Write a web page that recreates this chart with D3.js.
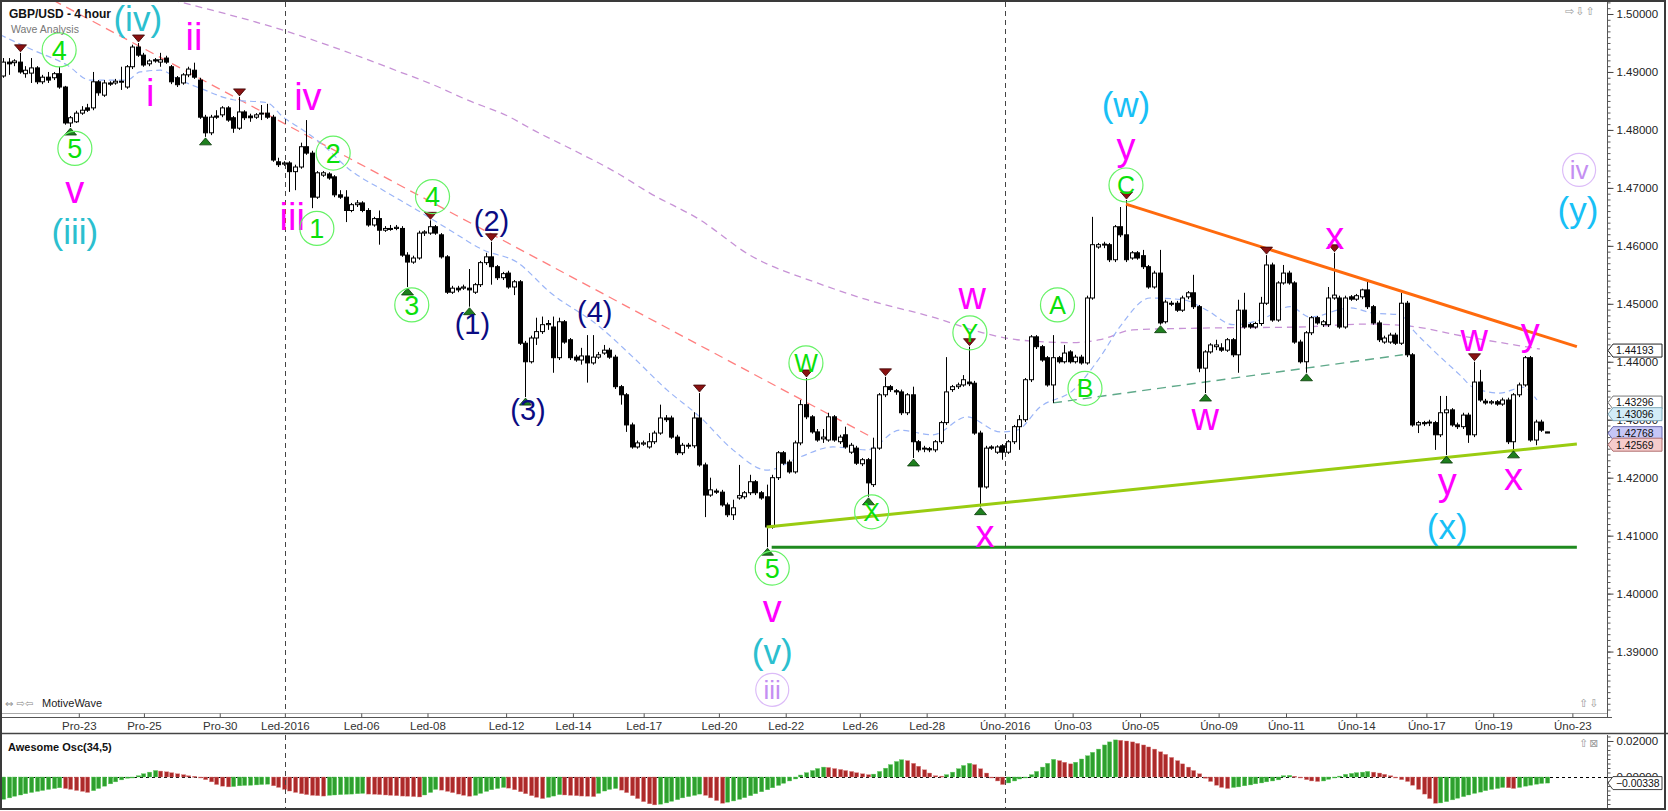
<!DOCTYPE html>
<html><head><meta charset="utf-8">
<script src="https://d3js.org/d3.v7.min.js"></script>
<style>
html,body{margin:0;padding:0;background:#fff;overflow:hidden}
svg{display:block}
</style></head>
<body><svg id="chart" width="1668" height="811"></svg>
<script>
// ---------------- DATA (GBP/USD 4 hour candles) ----------------
const opens = [
1.4893,1.4917,1.4916,1.4917,1.4897,1.4898,1.4907,1.4883,1.4891,1.4890,
1.4897,1.4874,1.4812,1.4814,1.4829,1.4838,1.4838,1.4883,1.4860,1.4881,
1.4881,1.4883,1.4874,1.4909,1.4943,1.4929,1.4914,1.4921,1.4917,1.4924,
1.4909,1.4890,1.4881,1.4895,1.4903,1.4886,1.4822,1.4795,1.4824,1.4826,
1.4838,1.4821,1.4803,1.4831,1.4824,1.4822,1.4828,1.4829,1.4822,1.4745,
1.4741,1.4743,1.4728,1.4736,1.4771,1.4760,1.4684,1.4722,1.4724,1.4719,
1.4688,1.4684,1.4661,1.4671,1.4674,1.4661,1.4636,1.4647,1.4627,1.4630,
1.4630,1.4630,1.4584,1.4572,1.4579,1.4622,1.4622,1.4633,1.4619,1.4581,
1.4520,1.4527,1.4527,1.4527,1.4520,1.4533,1.4571,1.4581,1.4564,1.4545,
1.4553,1.4529,1.4538,1.4432,1.4400,1.4441,1.4452,1.4464,1.4460,1.4407,
1.4469,1.4438,1.4408,1.4403,1.4410,1.4398,1.4408,1.4415,1.4420,1.4408,
1.4357,1.4343,1.4291,1.4253,1.4258,1.4253,1.4262,1.4277,1.4303,1.4303,
1.4270,1.4243,1.4255,1.4255,1.4303,1.4222,1.4170,1.4177,1.4175,1.4153,
1.4136,1.4165,1.4167,1.4174,1.4193,1.4174,1.4167,1.4115,1.4200,1.4243,
1.4227,1.4210,1.4260,1.4326,1.4305,1.4279,1.4267,1.4265,1.4305,1.4262,
1.4274,1.4244,1.4251,1.4224,1.4231,1.4188,1.4251,1.4343,1.4357,1.4350,
1.4348,1.4312,1.4343,1.4262,1.4250,1.4250,1.4248,1.4262,1.4295,1.4352,
1.4357,1.4360,1.4365,1.4363,1.4277,1.4184,1.4253,1.4244,1.4255,1.4244,
1.4262,1.4288,1.4300,1.4369,1.4443,1.4426,1.4407,1.4360,1.4407,1.4400,
1.4417,1.4400,1.4408,1.4398,1.4510,1.4598,1.4602,1.4602,1.4576,1.4633,
1.4619,1.4579,1.4588,1.4583,1.4564,1.4529,1.4553,1.4469,1.4501,1.4501,
1.4489,1.4512,1.4519,1.4495,1.4389,1.4417,1.4426,1.4424,1.4420,1.4438,
1.4412,1.4489,1.4464,1.4460,1.4466,1.4501,1.4567,1.4472,1.4536,1.4553,
1.4536,1.4434,1.4400,1.4450,1.4476,1.4464,1.4464,1.4510,1.4510,1.4460,
1.4512,1.4508,1.4512,1.4524,1.4495,1.4467,1.4434,1.4434,1.4446,1.4432,
1.4501,1.4412,1.4291,1.4295,1.4295,1.4295,1.4274,1.4312,1.4317,1.4291,
1.4288,1.4308,1.4274,1.4365,1.4332,1.4329,1.4331,1.4327,1.4334,1.4262,
1.4343,1.4360,1.4407,1.4265,1.4296,1.4279];
const highs = [
1.4924,1.4924,1.4922,1.4933,1.4910,1.4924,1.4910,1.4895,1.4900,1.4900,
1.4909,1.4876,1.4824,1.4833,1.4841,1.4845,1.4900,1.4886,1.4886,1.4884,
1.4888,1.4909,1.4912,1.4947,1.4950,1.4933,1.4922,1.4924,1.4933,1.4928,
1.4912,1.4893,1.4898,1.4909,1.4916,1.4890,1.4826,1.4826,1.4834,1.4841,
1.4841,1.4824,1.4857,1.4834,1.4828,1.4829,1.4843,1.4845,1.4826,1.4752,
1.4746,1.4746,1.4740,1.4778,1.4817,1.4764,1.4729,1.4729,1.4727,1.4722,
1.4696,1.4696,1.4674,1.4679,1.4677,1.4665,1.4650,1.4661,1.4634,1.4636,
1.4636,1.4634,1.4589,1.4583,1.4626,1.4627,1.4644,1.4636,1.4622,1.4584,
1.4531,1.4531,1.4533,1.4560,1.4536,1.4574,1.4588,1.4607,1.4567,1.4555,
1.4557,1.4541,1.4541,1.4436,1.4445,1.4476,1.4478,1.4472,1.4478,1.4476,
1.4472,1.4441,1.4412,1.4424,1.4446,1.4446,1.4417,1.4429,1.4424,1.4412,
1.4360,1.4346,1.4295,1.4264,1.4264,1.4277,1.4281,1.4326,1.4308,1.4307,
1.4274,1.4260,1.4260,1.4313,1.4346,1.4226,1.4200,1.4181,1.4179,1.4157,
1.4162,1.4222,1.4177,1.4205,1.4196,1.4177,1.4188,1.4205,1.4246,1.4246,
1.4231,1.4264,1.4334,1.4372,1.4308,1.4284,1.4284,1.4312,1.4308,1.4274,
1.4288,1.4260,1.4255,1.4234,1.4234,1.4269,1.4346,1.4374,1.4360,1.4353,
1.4352,1.4346,1.4357,1.4265,1.4255,1.4253,1.4265,1.4298,1.4408,1.4360,
1.4364,1.4377,1.4426,1.4367,1.4281,1.4255,1.4256,1.4256,1.4258,1.4265,
1.4291,1.4308,1.4372,1.4446,1.4446,1.4429,1.4410,1.4446,1.4410,1.4429,
1.4420,1.4412,1.4412,1.4514,1.4650,1.4605,1.4607,1.4605,1.4636,1.4667,
1.4679,1.4591,1.4591,1.4593,1.4567,1.4557,1.4593,1.4507,1.4505,1.4505,
1.4514,1.4522,1.4550,1.4498,1.4420,1.4432,1.4438,1.4432,1.4441,1.4441,
1.4507,1.4519,1.4467,1.4469,1.4512,1.4584,1.4571,1.4539,1.4567,1.4557,
1.4539,1.4438,1.4453,1.4479,1.4479,1.4472,1.4529,1.4588,1.4514,1.4514,
1.4515,1.4517,1.4526,1.4538,1.4498,1.4471,1.4445,1.4450,1.4450,1.4519,
1.4505,1.4415,1.4298,1.4298,1.4300,1.4298,1.4341,1.4341,1.4320,1.4295,
1.4312,1.4312,1.4400,1.4386,1.4336,1.4334,1.4334,1.4338,1.4338,1.4346,
1.4364,1.4410,1.4410,1.4300,1.4300,1.4279];
const lows = [
1.4890,1.4895,1.4910,1.4897,1.4890,1.4881,1.4879,1.4879,1.4881,1.4886,
1.4871,1.4809,1.4805,1.4812,1.4826,1.4831,1.4834,1.4859,1.4857,1.4876,
1.4878,1.4869,1.4871,1.4905,1.4926,1.4909,1.4910,1.4916,1.4909,1.4914,
1.4879,1.4874,1.4878,1.4891,1.4888,1.4819,1.4788,1.4791,1.4819,1.4822,
1.4814,1.4795,1.4800,1.4817,1.4814,1.4819,1.4817,1.4819,1.4745,1.4736,
1.4738,1.4693,1.4696,1.4733,1.4757,1.4665,1.4681,1.4719,1.4714,1.4684,
1.4681,1.4641,1.4658,1.4667,1.4658,1.4633,1.4633,1.4602,1.4624,1.4626,
1.4627,1.4581,1.4529,1.4569,1.4576,1.4617,1.4619,1.4619,1.4578,1.4517,
1.4517,1.4520,1.4524,1.4495,1.4517,1.4529,1.4567,1.4533,1.4541,1.4541,
1.4526,1.4515,1.4429,1.4339,1.4397,1.4429,1.4448,1.4455,1.4381,1.4403,
1.4431,1.4403,1.4400,1.4395,1.4364,1.4395,1.4405,1.4412,1.4405,1.4353,
1.4326,1.4279,1.4250,1.4250,1.4255,1.4250,1.4258,1.4274,1.4296,1.4267,
1.4239,1.4239,1.4250,1.4251,1.4219,1.4132,1.4167,1.4172,1.4150,1.4132,
1.4127,1.4162,1.4163,1.4170,1.4170,1.4162,1.4080,1.4112,1.4196,1.4222,
1.4207,1.4207,1.4256,1.4301,1.4276,1.4262,1.4260,1.4262,1.4262,1.4258,
1.4250,1.4241,1.4222,1.4220,1.4167,1.4184,1.4248,1.4339,1.4348,1.4343,
1.4308,1.4308,1.4234,1.4244,1.4244,1.4244,1.4244,1.4258,1.4291,1.4348,
1.4353,1.4357,1.4358,1.4274,1.4150,1.4181,1.4248,1.4241,1.4231,1.4241,
1.4258,1.4248,1.4296,1.4365,1.4422,1.4400,1.4357,1.4329,1.4397,1.4397,
1.4397,1.4397,1.4395,1.4395,1.4507,1.4595,1.4596,1.4572,1.4572,1.4615,
1.4572,1.4576,1.4576,1.4560,1.4526,1.4526,1.4464,1.4466,1.4496,1.4486,
1.4486,1.4508,1.4491,1.4382,1.4346,1.4414,1.4420,1.4417,1.4417,1.4408,
1.4381,1.4457,1.4457,1.4457,1.4462,1.4498,1.4469,1.4469,1.4533,1.4533,
1.4431,1.4397,1.4381,1.4446,1.4464,1.4460,1.4460,1.4507,1.4457,1.4457,
1.4505,1.4505,1.4508,1.4491,1.4464,1.4434,1.4431,1.4431,1.4429,1.4429,
1.4408,1.4288,1.4277,1.4289,1.4289,1.4248,1.4270,1.4239,1.4288,1.4284,
1.4284,1.4260,1.4270,1.4331,1.4326,1.4326,1.4324,1.4324,1.4258,1.4248,
1.4339,1.4357,1.4262,1.4256,1.4279,1.4277];
const closes = [
1.4917,1.4914,1.4919,1.4900,1.4903,1.4907,1.4883,1.4891,1.4886,1.4897,
1.4874,1.4812,1.4821,1.4829,1.4834,1.4834,1.4883,1.4864,1.4881,1.4879,
1.4884,1.4884,1.4909,1.4943,1.4929,1.4912,1.4919,1.4919,1.4921,1.4917,
1.4883,1.4878,1.4895,1.4905,1.4891,1.4822,1.4795,1.4822,1.4822,1.4838,
1.4817,1.4803,1.4831,1.4821,1.4821,1.4826,1.4829,1.4822,1.4748,1.4740,
1.4743,1.4728,1.4736,1.4771,1.4760,1.4684,1.4726,1.4726,1.4717,1.4688,
1.4684,1.4661,1.4671,1.4674,1.4661,1.4636,1.4647,1.4627,1.4630,1.4629,
1.4632,1.4584,1.4572,1.4579,1.4622,1.4624,1.4633,1.4622,1.4581,1.4520,
1.4527,1.4524,1.4529,1.4524,1.4533,1.4571,1.4581,1.4564,1.4545,1.4552,
1.4529,1.4538,1.4432,1.4400,1.4441,1.4452,1.4464,1.4466,1.4407,1.4469,
1.4434,1.4407,1.4403,1.4410,1.4398,1.4408,1.4412,1.4420,1.4408,1.4357,
1.4343,1.4291,1.4253,1.4260,1.4260,1.4262,1.4277,1.4303,1.4300,1.4270,
1.4243,1.4256,1.4256,1.4303,1.4222,1.4170,1.4179,1.4175,1.4153,1.4136,
1.4148,1.4169,1.4174,1.4193,1.4174,1.4165,1.4115,1.4200,1.4243,1.4225,
1.4210,1.4260,1.4326,1.4305,1.4279,1.4265,1.4270,1.4305,1.4265,1.4270,
1.4253,1.4256,1.4225,1.4231,1.4191,1.4251,1.4343,1.4357,1.4352,1.4348,
1.4312,1.4343,1.4262,1.4248,1.4251,1.4248,1.4262,1.4295,1.4348,1.4357,
1.4360,1.4369,1.4362,1.4277,1.4184,1.4251,1.4251,1.4253,1.4244,1.4262,
1.4288,1.4300,1.4369,1.4443,1.4426,1.4403,1.4360,1.4407,1.4400,1.4415,
1.4400,1.4408,1.4398,1.4510,1.4602,1.4602,1.4603,1.4576,1.4633,1.4619,
1.4576,1.4588,1.4579,1.4564,1.4529,1.4553,1.4467,1.4503,1.4500,1.4489,
1.4510,1.4519,1.4495,1.4389,1.4417,1.4429,1.4429,1.4420,1.4438,1.4412,
1.4489,1.4460,1.4460,1.4466,1.4501,1.4567,1.4472,1.4536,1.4553,1.4536,
1.4434,1.4400,1.4450,1.4476,1.4467,1.4469,1.4510,1.4515,1.4460,1.4510,
1.4508,1.4514,1.4524,1.4495,1.4467,1.4438,1.4441,1.4446,1.4432,1.4501,
1.4412,1.4291,1.4295,1.4293,1.4296,1.4274,1.4312,1.4317,1.4291,1.4288,
1.4308,1.4274,1.4365,1.4334,1.4329,1.4331,1.4327,1.4334,1.4262,1.4343,
1.4360,1.4407,1.4265,1.4296,1.4282,1.4277];

// Awesome Oscillator (34,5) histogram values
const aoValues = [
-0.0124,-0.0116,-0.0107,-0.0100,-0.0093,-0.0086,-0.0080,-0.0075,-0.0069,-0.0064,-0.0060,
-0.0064,-0.0069,-0.0075,-0.0080,-0.0086,
-0.0076,-0.0064,-0.0051,-0.0038,-0.0027,-0.0016,-0.0007,-0.0002,
0.0007,0.0018,0.0027,0.0036,
0.0033,0.0029,0.0024,0.0018,0.0013,0.0007,0.0004,
-0.0004,-0.0015,-0.0027,-0.0042,-0.0051,-0.0055,
-0.0053,-0.0049,-0.0047,-0.0046,-0.0044,-0.0042,-0.0040,
-0.0049,-0.0058,-0.0069,-0.0078,-0.0086,-0.0093,-0.0098,-0.0102,-0.0104,-0.0106,
-0.0102,-0.0100,-0.0098,-0.0096,-0.0095,-0.0093,-0.0091,
-0.0095,-0.0096,-0.0098,-0.0100,-0.0102,-0.0104,-0.0106,-0.0107,-0.0109,-0.0111,
-0.0100,-0.0086,-0.0069,
-0.0073,-0.0080,-0.0087,-0.0095,-0.0102,-0.0107,
-0.0102,-0.0091,-0.0080,-0.0071,-0.0064,-0.0058,
-0.0062,-0.0071,-0.0082,-0.0093,-0.0104,-0.0113,-0.0120,
-0.0113,-0.0106,-0.0098,
-0.0100,-0.0102,-0.0104,-0.0106,-0.0107,-0.0109,
-0.0091,-0.0078,-0.0069,-0.0064,
-0.0073,-0.0087,-0.0104,-0.0120,-0.0137,-0.0149,-0.0155,
-0.0151,-0.0144,-0.0135,-0.0126,-0.0116,-0.0109,-0.0102,-0.0095,
-0.0102,-0.0116,-0.0131,-0.0146,
-0.0140,-0.0133,-0.0124,-0.0115,-0.0104,-0.0093,-0.0082,-0.0071,-0.0060,-0.0047,-0.0035,-0.0022,-0.0011,
0.0011,0.0024,0.0036,0.0047,0.0055,
0.0053,0.0047,0.0042,0.0036,0.0031,0.0024,
0.0018,0.0013,
0.0016,0.0031,0.0049,0.0069,0.0086,0.0096,
0.0091,0.0076,0.0060,0.0040,0.0022,0.0007,0.0005,
0.0013,0.0027,0.0046,0.0064,0.0076,
0.0069,0.0046,0.0022,-0.0004,-0.0022,-0.0042,
-0.0033,-0.0022,-0.0011,-0.0002,
0.0013,0.0031,0.0055,0.0076,0.0098,
0.0091,0.0082,0.0073,
0.0082,0.0100,0.0118,0.0137,0.0155,
0.0178,0.0195,0.0206,
0.0204,0.0200,0.0195,0.0187,0.0178,0.0167,0.0155,0.0140,0.0126,0.0109,0.0091,0.0073,0.0055,0.0036,0.0018,
-0.0007,-0.0025,-0.0046,-0.0058,-0.0064,
-0.0058,-0.0055,-0.0049,-0.0044,-0.0038,-0.0033,-0.0027,-0.0022,-0.0016,
0.0007,0.0009,
0.0004,-0.0005,-0.0015,-0.0022,-0.0025,
-0.0022,-0.0013,-0.0004,0.0005,0.0015,0.0020,0.0024,0.0027,0.0031,
0.0027,0.0022,0.0015,0.0007,
-0.0004,-0.0015,-0.0025,-0.0046,-0.0069,-0.0095,-0.0120,-0.0146,
-0.0144,-0.0137,-0.0127,-0.0118,-0.0109,-0.0100,-0.0091,-0.0084,-0.0076,-0.0069,-0.0064,-0.0058,
-0.0060,-0.0064,
-0.0058,-0.0051,-0.0046,-0.0040,-0.0036,-0.00338];

// time axis (bar index of each date label)
const tickLabels = ["Pro-23","Pro-25","Pro-30","Led-2016","Led-06","Led-08","Led-12","Led-14","Led-17","Led-20","Led-22","Led-26","Led-28","Úno-2016","Úno-03","Úno-05","Úno-09","Úno-11","Úno-14","Úno-17","Úno-19","Úno-23"];
const tickBars = [13.5,25.1,38.6,50.2,63.8,75.6,89.6,101.5,114.1,127.5,139.4,152.6,164.5,178.4,190.5,202.5,216.5,228.5,241,253.5,265.4,279.5];
const periodBreaks = [50.2, 178.4];
const priceTicks = [1.39,1.40,1.41,1.42,1.43,1.44,1.45,1.46,1.47,1.48,1.49,1.50];
const oscTicks = [0.00, 0.02];
const priceTags = [1.44193, 1.43296, 1.43096, 1.42768, 1.42569];

// moving averages [bar, price]
const fastMA = [[-0.5,1.4964],[5.3,1.4938],[11.4,1.4912],[15.5,1.4886],[22.1,1.4886],[24.4,1.4900],[28,1.4903],[31.5,1.4886],[35.1,1.4872],[41,1.4852],[47,1.4847],[49.9,1.4822],[52.9,1.4803],[56.5,1.4778],[61.8,1.4731],[67.7,1.4696],[73.7,1.4662],[79.6,1.4627],[85.5,1.4593],[91.5,1.4572],[97.4,1.4520],[106.3,1.4460],[112.2,1.4408],[118.3,1.4351],[124.1,1.4305],[130,1.4248],[136.1,1.4213],[142,1.4236],[147.8,1.4253],[153.9,1.4248],[159.7,1.4282],[165.6,1.4274],[171.7,1.4305],[177.6,1.4279],[180.6,1.4282],[184.7,1.4322],[190.6,1.4351],[195.4,1.4408],[198.9,1.4460],[204.3,1.4510],[210.2,1.4507],[214.4,1.4489],[219.1,1.4464],[223.9,1.4472],[229.2,1.4495],[232.8,1.4477],[239.9,1.4493],[244,1.4484],[248.8,1.4481],[251.1,1.4455],[254.7,1.4420],[259.5,1.4377],[261.8,1.4356],[266.6,1.4346],[270.7,1.4356],[273.2,1.4334]];
const slowMA = [[26,1.5035],[30.3,1.5024],[49.9,1.4972],[58.8,1.4943],[70.7,1.4900],[76.6,1.4878],[82.6,1.4852],[90.3,1.4822],[94.4,1.4800],[100.4,1.4771],[109.3,1.4726],[115.2,1.4691],[124.1,1.4645],[133,1.4584],[145,1.4536],[153.9,1.4507],[165.6,1.4477],[174.5,1.4450],[180.6,1.4438],[190.6,1.4433],[195.4,1.4438],[201.2,1.4455],[213.2,1.4458],[231,1.4460],[242.9,1.4465],[250,1.4462],[260.7,1.4443],[273.7,1.4422]];

// trend lines [bar, price]
const downTrendDashed = [[8.9,1.5024],[154.9,1.4269]];
const resistanceLine = [[200,1.4672],[280.3,1.4426]];
const supportLine = [[136,1.4115],[280.3,1.4258]];
const lowLine = [[136.9,1.4080],[280.3,1.4080]];
const channelDashed = [[187,1.4329],[249.3,1.4412]];

// swing markers (bar indices)
const highMarks = [3,24,42,76,87,124,143,157,172,200,225,237,262];
const lowMarks = [12,36,72,83,93,136,154,162,174,206,214,232,257,269];

// wave labels: text, bar, price, degree
const waveLabels = [
 {t:"(iv)",i:24.0,p:1.4986,k:"teal"},{t:"ii",i:34.0,p:1.4962,k:"mag"},{t:"i",i:26.2,p:1.4864,k:"mag"},
 {t:"v",i:12.8,p:1.4691,k:"mag"},{t:"(iii)",i:12.8,p:1.4619,k:"teal"},{t:"iv",i:54.3,p:1.4857,k:"mag"},
 {t:"iii",i:51.5,p:1.4650,k:"mag"},{t:"(2)",i:87.0,p:1.4639,k:"navy"},{t:"(1)",i:83.6,p:1.4461,k:"navy"},
 {t:"(4)",i:105.4,p:1.4481,k:"navy"},{t:"(3)",i:93.5,p:1.4313,k:"navy"},{t:"(w)",i:200,p:1.4838,k:"sky"},
 {t:"y",i:200,p:1.4759,k:"mag"},{t:"x",i:237.2,p:1.4612,k:"mag"},{t:"(y)",i:280.5,p:1.4656,k:"sky"},
 {t:"w",i:172.6,p:1.4508,k:"mag"},{t:"w",i:214.1,p:1.4300,k:"mag"},{t:"x",i:174.9,p:1.4098,k:"mag"},
 {t:"w",i:262,p:1.4436,k:"mag"},{t:"y",i:272,p:1.4439,k:"mag"},{t:"y",i:257.2,p:1.4181,k:"mag"},
 {t:"x",i:269,p:1.4196,k:"mag"},{t:"(x)",i:257.2,p:1.4110,k:"sky"},{t:"v",i:137,p:1.3968,k:"mag"},
 {t:"(v)",i:137,p:1.3894,k:"teal"}
];
const circledLabels = [
 {t:"4",i:10.0,p:1.4938},{t:"5",i:12.8,p:1.4768},{t:"2",i:58.8,p:1.4760},{t:"1",i:55.9,p:1.4630},
 {t:"4",i:76.5,p:1.4685},{t:"3",i:72.8,p:1.4498},{t:"W",i:143,p:1.4398},{t:"C",i:200,p:1.4705},
 {t:"Y",i:172.2,p:1.4450},{t:"A",i:187.8,p:1.4498},{t:"B",i:192.7,p:1.4354},{t:"X",i:154.7,p:1.4141},
 {t:"5",i:137,p:1.4044}
];
const cycleLabels = [{t:"iv",i:280.7,p:1.4731},{t:"iii",i:137,p:1.3834}];

// ---------------- DRAWING ----------------
const FONT = "'Liberation Sans', Arial, Helvetica, sans-serif";
const svg = d3.select("#chart");
const P = {l:2, r:1607, t:2, b:713};
const OS = {t:735, b:808};

const x = d3.scaleLinear().domain([0, 275]).range([3, 1547.1]);
const y = d3.scaleLinear().domain([1.3794, 1.50207]).range([P.b, P.t]);
const yo = d3.scaleLinear().domain([-0.01722, 0.02333]).range([OS.b, OS.t]);

svg.append("rect").attr("width",1668).attr("height",811).attr("fill","#fff");
const defs = svg.append("defs");
defs.append("clipPath").attr("id","clipMain").append("rect")
  .attr("x",P.l).attr("y",P.t).attr("width",P.r-P.l).attr("height",P.b-P.t);
defs.append("clipPath").attr("id","clipOsc").append("rect")
  .attr("x",P.l).attr("y",OS.t).attr("width",P.r-P.l).attr("height",OS.b-OS.t);

const main = svg.append("g").attr("clip-path","url(#clipMain)");
const osc = svg.append("g").attr("clip-path","url(#clipOsc)");

// period separators
periodBreaks.forEach(b => {
  const xx = Math.round(x(b)) + 0.5;
  [[P.t,P.b],[OS.t,OS.b]].forEach(([a,c]) => {
    svg.append("line").attr("x1",xx).attr("x2",xx).attr("y1",a).attr("y2",c)
      .attr("stroke","#444").attr("stroke-width",1).attr("stroke-dasharray","5,4");
  });
});

const line = d3.line().x(d => x(d[0])).y(d => y(d[1]));
const smooth = d3.line().x(d => x(d[0])).y(d => y(d[1])).curve(d3.curveMonotoneX);

main.append("path").attr("d", smooth(slowMA)).attr("fill","none")
  .attr("stroke","#c792d6").attr("stroke-width",1.3).attr("stroke-dasharray","7,5");
main.append("path").attr("d", line(downTrendDashed)).attr("fill","none")
  .attr("stroke","#ff7f7f").attr("stroke-width",1.3).attr("stroke-dasharray","9,6");
main.append("path").attr("d", smooth(fastMA)).attr("fill","none")
  .attr("stroke","#9bb5f7").attr("stroke-width",1.2).attr("stroke-dasharray","6,4");
main.append("path").attr("d", line(channelDashed)).attr("fill","none")
  .attr("stroke","#5fa98a").attr("stroke-width",1.4).attr("stroke-dasharray","9,6");

// candles
const candles = d3.range(opens.length).map(i => ({
  i, o: opens[i], c: closes[i],
  h: Math.max(highs[i], opens[i], closes[i]),
  l: Math.min(lows[i], opens[i], closes[i])
}));
const cg = main.append("g");
cg.selectAll("line").data(candles).join("line")
  .attr("x1", d => Math.round(x(d.i)) + 0.5).attr("x2", d => Math.round(x(d.i)) + 0.5)
  .attr("y1", d => y(d.h)).attr("y2", d => y(d.l))
  .attr("stroke","#000").attr("stroke-width",1);
cg.selectAll("rect").data(candles).join("rect")
  .attr("x", d => Math.round(x(d.i)) - 1.5)
  .attr("width", 4)
  .attr("y", d => y(Math.max(d.o, d.c)))
  .attr("height", d => Math.max(1, Math.abs(y(d.o) - y(d.c))))
  .attr("fill", d => d.c >= d.o ? "#fff" : "#000")
  .attr("stroke","#000").attr("stroke-width",1);

// trend lines on top
main.append("path").attr("d", line(lowLine)).attr("stroke","#1f8a1f").attr("stroke-width",3).attr("fill","none");
main.append("path").attr("d", line(supportLine)).attr("stroke","#99cc11").attr("stroke-width",3).attr("fill","none");
main.append("path").attr("d", line(resistanceLine)).attr("stroke","#ff6a0d").attr("stroke-width",3).attr("fill","none");

// swing markers
const mg = main.append("g");
mg.selectAll("path.hi").data(highMarks).join("path").attr("class","hi")
  .attr("d", i => { const cx = Math.round(x(i)) + 0.5, yy = y(highs[i]) - 1;
    return `M${cx-6},${yy-7}L${cx+6},${yy-7}L${cx},${yy}Z`; })
  .attr("fill","#8a1212").attr("stroke","#3a0000").attr("stroke-width",0.8);
mg.selectAll("path.lo").data(lowMarks).join("path").attr("class","lo")
  .attr("d", i => { const cx = Math.round(x(i)) + 0.5, yy = y(lows[i]) + 1;
    return `M${cx-6},${yy+7}L${cx+6},${yy+7}L${cx},${yy}Z`; })
  .attr("fill","#1e7f1e").attr("stroke","#0a3a0a").attr("stroke-width",0.8);

// wave labels
const kindStyle = {
  mag: {fill:"#ff00ff", size:38},
  teal:{fill:"#2cbfcf", size:35},
  sky: {fill:"#18c0f6", size:35},
  navy:{fill:"#0b0b82", size:29}
};
function baseOffset(t) {
  if (t.includes("(")) return 0.26;
  if (t.includes("i")) return 0.358;
  if (t.includes("y")) return 0.155;
  return 0.26;
}
const lg = svg.append("g").attr("font-family", FONT);
lg.selectAll("text.wl").data(waveLabels).join("text").attr("class","wl")
  .attr("x", d => x(d.i))
  .attr("y", d => y(d.p) + baseOffset(d.t) * kindStyle[d.k].size)
  .attr("text-anchor","middle")
  .attr("font-size", d => kindStyle[d.k].size)
  .attr("fill", d => kindStyle[d.k].fill)
  .text(d => d.t);

const cl = lg.selectAll("g.cl").data(circledLabels).join("g").attr("class","cl")
  .attr("transform", d => `translate(${x(d.i)},${y(d.p)})`);
cl.append("circle").attr("r",17).attr("fill","none").attr("stroke","#66f266").attr("stroke-width",1.2);
cl.append("text").attr("text-anchor","middle").attr("font-size", d => /\d/.test(d.t) ? 27 : 25)
  .attr("y", d => (/\d/.test(d.t) ? 27 : 25) * 0.358)
  .attr("fill","#0be00b").text(d => d.t);

const yl = lg.selectAll("g.cy").data(cycleLabels).join("g").attr("class","cy")
  .attr("transform", d => `translate(${x(d.i)},${y(d.p)})`);
yl.append("circle").attr("r",16.5).attr("fill","none").attr("stroke","#dcbcf8").attr("stroke-width",1.2);
yl.append("text").attr("text-anchor","middle").attr("font-size",26).attr("y",26*0.358)
  .attr("fill","#c48ff2").text(d => d.t);

// oscillator
osc.append("line").attr("x1",P.l).attr("x2",P.r).attr("y1",Math.round(yo(0))+0.5).attr("y2",Math.round(yo(0))+0.5)
  .attr("stroke","#000").attr("stroke-width",1).attr("stroke-dasharray","3,3");
osc.selectAll("rect").data(aoValues.map((v,i) => ({i, v, up: i === 0 || v >= aoValues[i-1]})))
  .join("rect")
  .attr("x", d => Math.round(x(d.i)) - 1.5)
  .attr("width", 4.2)
  .attr("y", d => yo(Math.max(0, d.v)))
  .attr("height", d => Math.max(1, Math.abs(yo(d.v) - yo(0))))
  .attr("fill", d => d.up ? "#2ea02e" : "#ad2a2a")
  .attr("stroke", d => d.up ? "#5fcf5f" : "#e08a8a").attr("stroke-width",0.4);

// frame lines
svg.append("line").attr("x1",0).attr("x2",P.r).attr("y1",713.5).attr("y2",713.5).attr("stroke","#aaa");
svg.append("line").attr("x1",0).attr("x2",1612).attr("y1",717.5).attr("y2",717.5).attr("stroke","#555");
svg.append("line").attr("x1",0).attr("x2",1668).attr("y1",733.5).attr("y2",733.5).attr("stroke","#444").attr("stroke-width",1.5);
svg.append("line").attr("x1",P.r+0.5).attr("x2",P.r+0.5).attr("y1",P.t).attr("y2",717).attr("stroke","#555");
svg.append("line").attr("x1",P.r+0.5).attr("x2",P.r+0.5).attr("y1",OS.t).attr("y2",OS.b).attr("stroke","#555");
svg.append("rect").attr("x",1).attr("y",1).attr("width",1664).attr("height",808)
  .attr("fill","none").attr("stroke","#3a3a3a").attr("stroke-width",2);

// time axis
const xAxis = d3.axisBottom(x).tickValues(tickBars).tickFormat((d,k) => tickLabels[k])
  .tickSize(4).tickPadding(4).tickSizeOuter(0);
const xg = svg.append("g").attr("transform",`translate(0,${713.5})`).call(xAxis);
xg.select(".domain").remove();
xg.selectAll("line").attr("stroke","#555");
xg.selectAll("text").attr("font-family",FONT).attr("font-size",11.5).attr("fill","#333");

// value tags (drawn over axis labels, as in the original)
function tagBox(yc, fill, stroke) {
  const x0 = P.r + 1, w = 54, h = 13;
  svg.append("path")
    .attr("d", `M${x0},${yc}L${x0+5},${yc-h/2}L${x0+w},${yc-h/2}L${x0+w},${yc+h/2}L${x0+5},${yc+h/2}Z`)
    .attr("fill", fill).attr("stroke", stroke).attr("stroke-width",1);
}
function tagText(yc, label) {
  svg.append("text").attr("x", P.r + 9).attr("y", yc + 3.8).attr("font-family",FONT)
    .attr("font-size",10.4).attr("fill","#111").text(label);
}

// price axis
const minorTicks = d3.range(1380, 1503).map(k => k / 1000).filter(v => v >= 1.3794 && v <= 1.5020);
const yMinor = svg.append("g").attr("transform",`translate(${P.r+0.5},0)`)
  .call(d3.axisRight(y).tickValues(minorTicks).tickSize(3).tickFormat(""));
yMinor.select(".domain").remove();
yMinor.selectAll("line").attr("stroke","#555");
const yg = svg.append("g").attr("transform",`translate(${P.r+0.5},0)`)
  .call(d3.axisRight(y).tickValues(priceTicks).tickSize(6).tickPadding(3).tickFormat(d3.format(".5f")));
yg.select(".domain").remove();
yg.selectAll("line").attr("stroke","#444");
yg.selectAll("text").attr("font-family",FONT).attr("font-size",11.5).attr("fill","#222");

// osc axis
const og = svg.append("g").attr("transform",`translate(${P.r+0.5},0)`)
  .call(d3.axisRight(yo).tickValues(d3.range(-15, 23, 2.5).map(v => v / 1000)).tickSize(3).tickFormat(""));
og.select(".domain").remove();
og.selectAll("line").attr("stroke","#555");
const og2 = svg.append("g").attr("transform",`translate(${P.r+0.5},0)`)
  .call(d3.axisRight(yo).tickValues(oscTicks).tickSize(6).tickPadding(3).tickFormat(d3.format(".5f")));
og2.select(".domain").remove();
og2.selectAll("line").attr("stroke","#444");
og2.selectAll("text").attr("font-family",FONT).attr("font-size",11.5).attr("fill","#222");

const tagStyles = [["#ffffff","#222"],["#ffffff","#777"],["#d3edf8","#7fa9b8"],["#c6c6f6","#6a6ab0"],["#f6cccc","#b07070"]];
priceTags.forEach((v, k) => tagBox(y(v), tagStyles[k][0], tagStyles[k][1]));
priceTags.forEach(v => tagText(y(v), d3.format(".5f")(v)));
const aoLast = aoValues[aoValues.length-1];
tagBox(yo(aoLast), "#ffffff", "#444");
tagText(yo(aoLast), d3.format(".5f")(aoLast));

// titles and misc text
svg.append("text").attr("x",9).attr("y",17.5).attr("font-family",FONT).attr("font-weight","bold")
  .attr("font-size",12).attr("fill","#111").text("GBP/USD - 4 hour");
svg.append("text").attr("x",11).attr("y",32.5).attr("font-family",FONT)
  .attr("font-size",10.5).attr("fill","#777").text("Wave Analysis");
svg.append("text").attr("x",8).attr("y",751).attr("font-family",FONT).attr("font-weight","bold")
  .attr("font-size",11).attr("fill","#111").text("Awesome Osc(34,5)");
svg.append("text").attr("x",5).attr("y",707).attr("font-family","'DejaVu Sans', sans-serif")
  .attr("font-size",10).attr("fill","#888").text("⇔ ⇨⇦");
svg.append("text").attr("x",42).attr("y",707).attr("font-family",FONT)
  .attr("font-size",11).attr("fill","#222").text("MotiveWave");
svg.append("text").attr("x",1565).attr("y",15).attr("font-family","'DejaVu Sans', sans-serif")
  .attr("font-size",11).attr("fill","#999").attr("letter-spacing",1).text("⇨⇩⇧");
svg.append("text").attr("x",1579).attr("y",707).attr("font-family","'DejaVu Sans', sans-serif")
  .attr("font-size",11).attr("fill","#999").attr("letter-spacing",1).text("⇧⇩");
svg.append("text").attr("x",1579).attr("y",747).attr("font-family","'DejaVu Sans', sans-serif")
  .attr("font-size",11).attr("fill","#999").attr("letter-spacing",1).text("⇧⊠");
</script>
</body></html>
